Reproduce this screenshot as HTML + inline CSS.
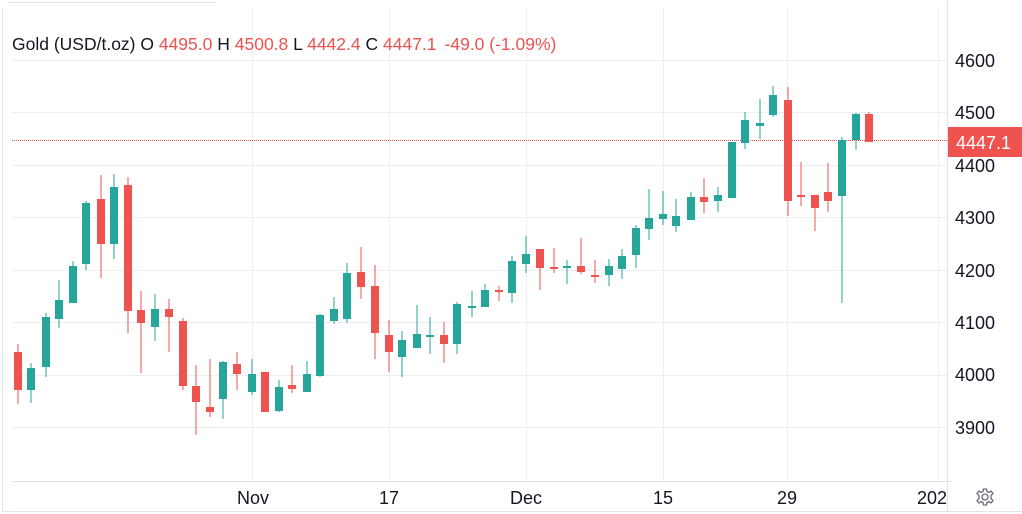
<!DOCTYPE html>
<html><head><meta charset="utf-8"><style>
html,body{margin:0;padding:0;background:#fff;}
svg{display:block;font-family:"Liberation Sans",Arial,sans-serif;}
</style></head><body>
<svg width="1022" height="514" viewBox="0 0 1022 514" xmlns="http://www.w3.org/2000/svg">
<rect x="0" y="0" width="1022" height="514" fill="#fff"/>
<line x1="8" y1="2.5" x2="216" y2="2.5" stroke="#e0e3eb"/>
<line x1="2.5" y1="8" x2="2.5" y2="511" stroke="#e0e3eb"/>
<line x1="2" y1="511.5" x2="1022" y2="511.5" stroke="#e0e3eb"/>
<g stroke="#eceef2" stroke-width="1">
<line x1="12" y1="60.5" x2="947" y2="60.5"/>
<line x1="12" y1="112.5" x2="947" y2="112.5"/>
<line x1="12" y1="165.5" x2="947" y2="165.5"/>
<line x1="12" y1="217.5" x2="947" y2="217.5"/>
<line x1="12" y1="270.5" x2="947" y2="270.5"/>
<line x1="12" y1="322.5" x2="947" y2="322.5"/>
<line x1="12" y1="375.5" x2="947" y2="375.5"/>
<line x1="12" y1="427.5" x2="947" y2="427.5"/>
<line x1="252.5" y1="8" x2="252.5" y2="480"/>
<line x1="389.5" y1="8" x2="389.5" y2="480"/>
<line x1="526.5" y1="8" x2="526.5" y2="480"/>
<line x1="663.5" y1="8" x2="663.5" y2="480"/>
<line x1="787.5" y1="8" x2="787.5" y2="480"/>
<line x1="938.5" y1="8" x2="938.5" y2="480"/>
</g>
<line x1="12" y1="481.5" x2="952" y2="481.5" stroke="#e0e3eb"/>
<line x1="947.5" y1="0" x2="947.5" y2="511" stroke="#e0e3eb"/>
<line x1="12" y1="140.5" x2="947" y2="140.5" stroke="#ef5350" stroke-dasharray="1,1"/>
<g>
<g fill="#ef5350" stroke="#ef5350">
<line x1="18" y1="344" x2="18" y2="404"/><rect x="14" y="352" width="8" height="38" stroke="none"/>
<line x1="101" y1="175" x2="101" y2="278"/><rect x="97" y="199" width="8" height="45" stroke="none"/>
<line x1="128" y1="177" x2="128" y2="333"/><rect x="124" y="185" width="8" height="126" stroke="none"/>
<line x1="141" y1="291" x2="141" y2="373"/><rect x="137" y="310" width="8" height="13" stroke="none"/>
<line x1="169" y1="299" x2="169" y2="352"/><rect x="165" y="309" width="8" height="8" stroke="none"/>
<line x1="183" y1="318" x2="183" y2="390"/><rect x="179" y="321" width="8" height="65" stroke="none"/>
<line x1="196" y1="365" x2="196" y2="435"/><rect x="192" y="386" width="8" height="16" stroke="none"/>
<line x1="210" y1="359" x2="210" y2="417"/><rect x="206" y="407" width="8" height="5" stroke="none"/>
<line x1="237" y1="352" x2="237" y2="390"/><rect x="233" y="364" width="8" height="10" stroke="none"/>
<rect x="261" y="372" width="8" height="40" stroke="none"/>
<line x1="292" y1="365" x2="292" y2="393"/><rect x="288" y="385" width="8" height="4" stroke="none"/>
<line x1="361" y1="247" x2="361" y2="299"/><rect x="357" y="272" width="8" height="15" stroke="none"/>
<line x1="375" y1="265" x2="375" y2="359"/><rect x="371" y="286" width="8" height="47" stroke="none"/>
<line x1="389" y1="320" x2="389" y2="372"/><rect x="385" y="335" width="8" height="17" stroke="none"/>
<line x1="444" y1="322" x2="444" y2="363"/><rect x="440" y="335" width="8" height="9" stroke="none"/>
<line x1="499" y1="286" x2="499" y2="301"/><rect x="495" y="290" width="8" height="2" stroke="none"/>
<line x1="540" y1="249" x2="540" y2="290"/><rect x="536" y="249" width="8" height="19" stroke="none"/>
<line x1="554" y1="248" x2="554" y2="273"/><rect x="550" y="267" width="8" height="2" stroke="none"/>
<line x1="581" y1="238" x2="581" y2="274"/><rect x="577" y="266" width="8" height="6" stroke="none"/>
<line x1="595" y1="260" x2="595" y2="283"/><rect x="591" y="275" width="8" height="2" stroke="none"/>
<line x1="704" y1="178" x2="704" y2="213"/><rect x="700" y="197" width="8" height="5" stroke="none"/>
<line x1="788" y1="87" x2="788" y2="216"/><rect x="784" y="100" width="8" height="101" stroke="none"/>
<line x1="801" y1="162" x2="801" y2="206"/><rect x="797" y="195" width="8" height="2" stroke="none"/>
<line x1="815" y1="195" x2="815" y2="231"/><rect x="811" y="195" width="8" height="13" stroke="none"/>
<line x1="828" y1="163" x2="828" y2="212"/><rect x="824" y="192" width="8" height="9" stroke="none"/>
<line x1="869" y1="112" x2="869" y2="142"/><rect x="865" y="114" width="8" height="28" stroke="none"/>
</g>
<g fill="#26a69a" stroke="#26a69a">
<line x1="31" y1="363" x2="31" y2="403"/><rect x="27" y="368" width="8" height="22" stroke="none"/>
<line x1="46" y1="313" x2="46" y2="377"/><rect x="42" y="317" width="8" height="50" stroke="none"/>
<line x1="59" y1="280" x2="59" y2="328"/><rect x="55" y="300" width="8" height="19" stroke="none"/>
<line x1="73" y1="261" x2="73" y2="303"/><rect x="69" y="266" width="8" height="37" stroke="none"/>
<line x1="86" y1="201" x2="86" y2="270"/><rect x="82" y="203" width="8" height="61" stroke="none"/>
<line x1="114" y1="174" x2="114" y2="259"/><rect x="110" y="187" width="8" height="57" stroke="none"/>
<line x1="155" y1="294" x2="155" y2="341"/><rect x="151" y="309" width="8" height="18" stroke="none"/>
<line x1="223" y1="361" x2="223" y2="419"/><rect x="219" y="362" width="8" height="37" stroke="none"/>
<line x1="252" y1="359" x2="252" y2="395"/><rect x="248" y="374" width="8" height="18" stroke="none"/>
<line x1="279" y1="380" x2="279" y2="412"/><rect x="275" y="387" width="8" height="24" stroke="none"/>
<line x1="307" y1="361" x2="307" y2="392"/><rect x="303" y="374" width="8" height="18" stroke="none"/>
<line x1="320" y1="314" x2="320" y2="377"/><rect x="316" y="315" width="8" height="61" stroke="none"/>
<line x1="334" y1="297" x2="334" y2="324"/><rect x="330" y="309" width="8" height="12" stroke="none"/>
<line x1="347" y1="263" x2="347" y2="323"/><rect x="343" y="273" width="8" height="46" stroke="none"/>
<line x1="402" y1="331" x2="402" y2="377"/><rect x="398" y="340" width="8" height="17" stroke="none"/>
<line x1="417" y1="305" x2="417" y2="348"/><rect x="413" y="334" width="8" height="14" stroke="none"/>
<line x1="430" y1="317" x2="430" y2="354"/><rect x="426" y="335" width="8" height="2" stroke="none"/>
<line x1="457" y1="302" x2="457" y2="354"/><rect x="453" y="304" width="8" height="40" stroke="none"/>
<line x1="472" y1="291" x2="472" y2="317"/><rect x="468" y="306" width="8" height="2" stroke="none"/>
<line x1="485" y1="284" x2="485" y2="307"/><rect x="481" y="290" width="8" height="17" stroke="none"/>
<line x1="512" y1="256" x2="512" y2="303"/><rect x="508" y="261" width="8" height="32" stroke="none"/>
<line x1="526" y1="236" x2="526" y2="273"/><rect x="522" y="254" width="8" height="10" stroke="none"/>
<line x1="567" y1="260" x2="567" y2="284"/><rect x="563" y="266" width="8" height="2" stroke="none"/>
<line x1="609" y1="259" x2="609" y2="286"/><rect x="605" y="266" width="8" height="9" stroke="none"/>
<line x1="622" y1="249" x2="622" y2="279"/><rect x="618" y="256" width="8" height="13" stroke="none"/>
<line x1="636" y1="225" x2="636" y2="268"/><rect x="632" y="228" width="8" height="27" stroke="none"/>
<line x1="649" y1="189" x2="649" y2="240"/><rect x="645" y="218" width="8" height="11" stroke="none"/>
<line x1="663" y1="191" x2="663" y2="225"/><rect x="659" y="214" width="8" height="5" stroke="none"/>
<line x1="676" y1="199" x2="676" y2="232"/><rect x="672" y="216" width="8" height="10" stroke="none"/>
<line x1="691" y1="192" x2="691" y2="220"/><rect x="687" y="197" width="8" height="23" stroke="none"/>
<line x1="718" y1="187" x2="718" y2="212"/><rect x="714" y="195" width="8" height="6" stroke="none"/>
<rect x="728" y="142" width="8" height="56" stroke="none"/>
<line x1="745" y1="112" x2="745" y2="149"/><rect x="741" y="120" width="8" height="23" stroke="none"/>
<line x1="760" y1="99" x2="760" y2="139"/><rect x="756" y="123" width="8" height="3" stroke="none"/>
<line x1="773" y1="86" x2="773" y2="117"/><rect x="769" y="95" width="8" height="20" stroke="none"/>
<line x1="842" y1="137" x2="842" y2="303"/><rect x="838" y="140" width="8" height="56" stroke="none"/>
<line x1="856" y1="113" x2="856" y2="150"/><rect x="852" y="114" width="8" height="26" stroke="none"/>
</g>
</g>
<text x="12" y="50" font-size="17.5" fill="#131722" xml:space="preserve">Gold (USD/t.oz) O <tspan fill="#ef5350">4495.0</tspan> H <tspan fill="#ef5350">4500.8</tspan> L <tspan fill="#ef5350">4442.4</tspan> C <tspan fill="#ef5350">4447.1</tspan><tspan fill="#ef5350" dx="8">-49.0 (-1.09%)</tspan></text>
<g font-size="18" fill="#131722">
<text x="955" y="67">4600</text>
<text x="955" y="119">4500</text>
<text x="955" y="172">4400</text>
<text x="955" y="224">4300</text>
<text x="955" y="277">4200</text>
<text x="955" y="329">4100</text>
<text x="955" y="381">4000</text>
<text x="955" y="434">3900</text>
</g>
<rect x="948" y="127" width="74" height="30" fill="#ef5350"/>
<text x="956" y="149" font-size="18" fill="#fff">4447.1</text>
<g font-size="18" fill="#131722" text-anchor="middle">
<text x="253" y="504">Nov</text>
<text x="389" y="504">17</text>
<text x="526" y="504">Dec</text>
<text x="663" y="504">15</text>
<text x="787" y="504">29</text>
</g>
<svg x="0" y="480" width="947" height="34"><text x="947" y="24" font-size="18" fill="#131722" text-anchor="end">202</text></svg>
<g transform="translate(985,497)" fill="none" stroke="#6a6d78" stroke-width="1.3">
<circle r="3"/>
<path d="M-1.5,-8 L1.5,-8 L2,-5.5 L4,-4.5 L6,-6 L8,-3.5 L6,-1.5 L6,1.5 L8,3.5 L6,6 L4,4.5 L2,5.5 L1.5,8 L-1.5,8 L-2,5.5 L-4,4.5 L-6,6 L-8,3.5 L-6,1.5 L-6,-1.5 L-8,-3.5 L-6,-6 L-4,-4.5 L-2,-5.5 Z"/>
</g>
</svg>
</body></html>
